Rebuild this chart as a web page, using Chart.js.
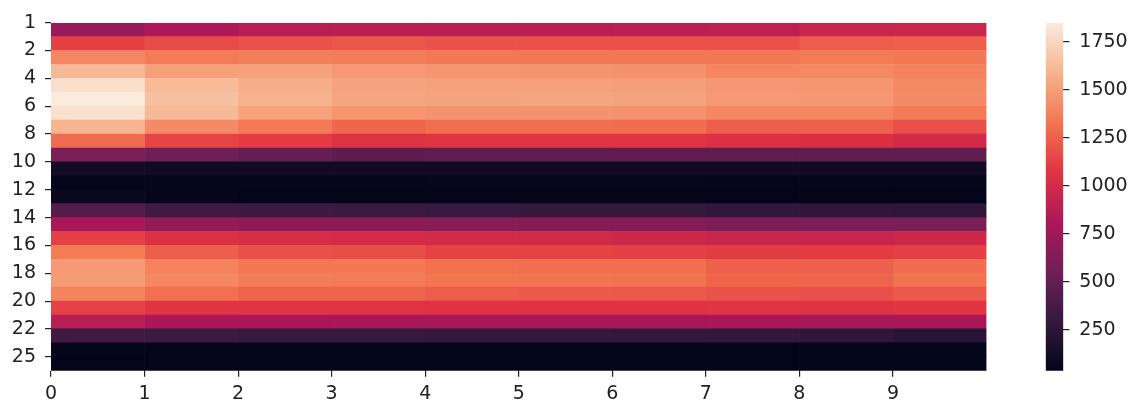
<!DOCTYPE html>
<html>
<head>
<meta charset="utf-8">
<script src="https://cdn.jsdelivr.net/npm/chart.js@4.4.1/dist/chart.umd.min.js"></script>
<style>
  html, body { margin: 0; padding: 0; background: #fff; }
  #wrap { position: relative; width: 1133px; height: 405px; }
  #heat { position: absolute; left: 0; top: 0; width: 1133px; height: 405px; }
  #cbar { position: absolute; left: 1000px; top: 0; width: 133px; height: 405px; }
</style>
</head>
<body>
<div id="wrap">
  <canvas id="heat" width="1133" height="405"></canvas>
  <canvas id="cbar" width="133" height="405"></canvas>
</div>
<script>
// tick positions / labels
const xTicks = [0, 1, 2, 3, 4, 5, 6, 7, 8, 9];
const yTickPos = [0, 2, 4, 6, 8, 10, 12, 14, 16, 18, 20, 22, 24];
const yTickLabels = ['1', '2', '4', '6', '8', '10', '12', '14', '16', '18', '20', '22', '25'];
const cbTicks = [250, 500, 750, 1000, 1250, 1500, 1750];
const vmin = 37;
const vmax = 1849;

// one array per column, 25 rows top to bottom
const col0 = [730, 1125, 1400, 1615, 1790, 1849, 1800, 1595, 1290, 600, 125, 40, 70, 430, 800, 1120, 1355, 1480, 1490, 1380, 1130, 870, 350, 45, 40];
const col1 = [820, 1165, 1355, 1505, 1625, 1650, 1620, 1420, 1135, 540, 120, 45, 45, 350, 700, 1050, 1240, 1385, 1405, 1310, 1080, 810, 320, 40, 38];
const col2 = [870, 1190, 1370, 1510, 1565, 1580, 1515, 1350, 1100, 500, 120, 45, 40, 330, 680, 1020, 1185, 1340, 1360, 1260, 1075, 800, 300, 38, 38];
const col3 = [880, 1215, 1360, 1475, 1525, 1530, 1465, 1270, 1060, 470, 120, 45, 40, 320, 675, 1010, 1175, 1340, 1355, 1260, 1070, 795, 300, 38, 38];
const col4 = [880, 1195, 1345, 1460, 1510, 1525, 1455, 1300, 1075, 480, 120, 55, 40, 295, 650, 1000, 1130, 1315, 1330, 1235, 1065, 790, 290, 38, 38];
const col5 = [880, 1190, 1340, 1455, 1505, 1530, 1455, 1300, 1075, 485, 120, 50, 40, 290, 640, 990, 1130, 1305, 1325, 1225, 1060, 785, 290, 38, 38];
const col6 = [885, 1190, 1340, 1450, 1500, 1520, 1450, 1295, 1070, 480, 120, 50, 40, 290, 640, 975, 1120, 1300, 1320, 1220, 1060, 785, 285, 38, 38];
const col7 = [900, 1190, 1340, 1400, 1470, 1475, 1405, 1240, 1050, 480, 120, 45, 40, 275, 610, 950, 1105, 1245, 1270, 1195, 1070, 795, 275, 38, 38];
const col8 = [950, 1235, 1355, 1405, 1465, 1470, 1400, 1245, 1045, 480, 120, 45, 40, 270, 600, 945, 1100, 1245, 1265, 1185, 1060, 790, 270, 38, 38];
const col9 = [965, 1245, 1345, 1380, 1415, 1420, 1355, 1185, 1000, 480, 120, 45, 40, 260, 595, 975, 1120, 1295, 1320, 1225, 1080, 800, 235, 38, 38];
const columns = [col0, col1, col2, col3, col4, col5, col6, col7, col8, col9];

// seaborn "rocket" colormap, approximated by a few stops
const rocket = [
  [0, 3, 5, 26],
  [1 / 7, 53, 25, 62],
  [2 / 7, 112, 31, 87],
  [3 / 7, 173, 23, 89],
  [4 / 7, 225, 51, 66],
  [5 / 7, 243, 118, 81],
  [6 / 7, 246, 180, 143],
  [1, 250, 235, 221]
];
function rocketColor(t) {
  t = Math.max(0, Math.min(1, t));
  for (let i = 1; i < rocket.length; i++) {
    if (t <= rocket[i][0]) {
      const a = rocket[i - 1], b = rocket[i];
      const f = (t - a[0]) / (b[0] - a[0]);
      const r = Math.round(a[1] + (b[1] - a[1]) * f);
      const g = Math.round(a[2] + (b[2] - a[2]) * f);
      const bl = Math.round(a[3] + (b[3] - a[3]) * f);
      return `rgb(${r}, ${g}, ${bl})`;
    }
  }
  return 'rgb(250, 235, 221)';
}

const tickFont = { family: 'DejaVu Sans', size: 19 };
const textColor = '#222';

const datasets = columns.map((vals, c) => ({
  data: vals.map((v, r) => ({ x: c + 0.5, y: [r, r + 1], v: v })),
  backgroundColor: ctx => ctx.raw ? rocketColor((ctx.raw.v - vmin) / (vmax - vmin)) : '#000',
  borderWidth: 0,
  grouped: false,
  barPercentage: 1,
  categoryPercentage: 1
}));

new Chart(document.getElementById('heat'), {
  type: 'bar',
  data: { datasets: datasets },
  options: {
    responsive: false,
    animation: false,
    layout: { padding: { top: 22.7, right: 146.5, left: 0, bottom: 0 } },
    plugins: { legend: { display: false }, tooltip: { enabled: false } },
    scales: {
      x: {
        type: 'linear',
        min: 0,
        max: 10,
        offset: false,
        grid: { drawOnChartArea: false, drawTicks: true, tickLength: 6, color: textColor, lineWidth: 1.2, offset: false },
        border: { display: false },
        ticks: { font: tickFont, color: textColor, padding: 6, maxRotation: 0, autoSkip: false },
        afterBuildTicks: s => { s.ticks = xTicks.map(v => ({ value: v })); },
        afterFit: s => { s.height = 34.3; }
      },
      y: {
        type: 'linear',
        min: 0,
        max: 25,
        reverse: true,
        grid: { drawOnChartArea: false, drawTicks: true, tickLength: 6, color: textColor, lineWidth: 1.2 },
        border: { display: false },
        ticks: {
          font: tickFont, color: textColor, padding: 9, autoSkip: false,
          callback: (v, i) => yTickLabels[i]
        },
        afterBuildTicks: s => { s.ticks = yTickPos.map(v => ({ value: v })); },
        afterFit: s => { s.width = 51; }
      }
    }
  }
});

// colour bar
new Chart(document.getElementById('cbar'), {
  type: 'bar',
  data: {
    labels: [''],
    datasets: [{
      data: [[vmin, vmax]],
      backgroundColor: ctx => {
        const area = ctx.chart.chartArea;
        if (!area) return '#000';
        const g = ctx.chart.ctx.createLinearGradient(0, area.bottom, 0, area.top);
        rocket.forEach(s => g.addColorStop(s[0], `rgb(${s[1]}, ${s[2]}, ${s[3]})`));
        return g;
      },
      borderWidth: 0,
      barPercentage: 1,
      categoryPercentage: 1
    }]
  },
  options: {
    responsive: false,
    animation: false,
    layout: { padding: { left: 45.7, top: 22.7, bottom: 34.3, right: 0 } },
    plugins: { legend: { display: false }, tooltip: { enabled: false } },
    scales: {
      x: { display: false },
      y: {
        position: 'right',
        min: vmin,
        max: vmax,
        grid: { drawOnChartArea: false, drawTicks: true, tickLength: 6, color: textColor, lineWidth: 1.2 },
        border: { display: false },
        ticks: { font: tickFont, color: textColor, padding: 10, callback: v => String(v) },
        afterBuildTicks: s => { s.ticks = cbTicks.map(v => ({ value: v })); },
        afterFit: s => { s.width = 69.7; }
      }
    }
  }
});
</script>
</body>
</html>
